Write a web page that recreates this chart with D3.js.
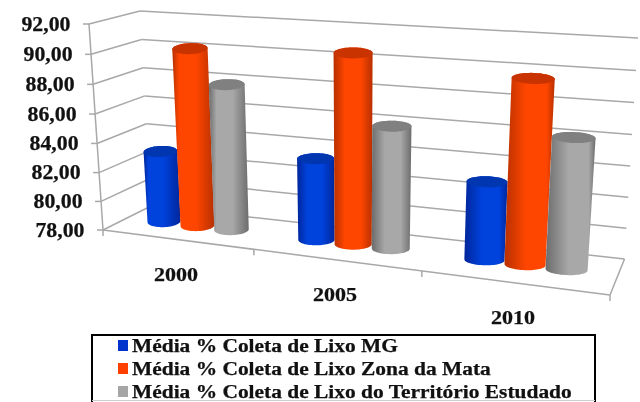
<!DOCTYPE html>
<html><head><meta charset="utf-8">
<script src="https://cdn.jsdelivr.net/npm/d3@7/dist/d3.min.js"></script>
<style>html,body{margin:0;padding:0;background:#fff}svg{display:block;filter:blur(0.4px)}</style>
</head><body><svg id="c" width="640" height="402"></svg>
<script>
const categories = ["2000","2005","2010"];
const seriesNames = ["Média % Coleta de Lixo MG","Média % Coleta de Lixo Zona da Mata","Média % Coleta de Lixo do Território Estudado"];
const mgValues = [82.95, 83.45, 83.0];
const zonaValues = [90.15, 90.5, 89.6];
const territorioValues = [87.9, 86.0, 86.2];
const tickValues = [78,80,82,84,86,88,90,92];
const tickLabels = ["78,00","80,00","82,00","84,00","86,00","88,00","90,00","92,00"];
const seriesColors = [
  {edge:"#00269a",mid:"#0042dc",top:"#0036b0",key:"#0033cc"},
  {edge:"#b83000",mid:"#ff4600",top:"#c93300",key:"#ff4000"},
  {edge:"#6c6c6c",mid:"#a8a8a8",top:"#808080",key:"#a6a6a6"}
];
const seriesValues = [mgValues, zonaValues, territorioValues];

const svg = d3.select("#c");
const defs = svg.append("defs");

const corners = {
  "000":[103,230],"100":[610,295],"010":[151,206],"110":[624.5,259],
  "001":[89,24],"101":[628,50],"011":[140,11],"111":[638,38]
};
const wAt = (u,v,h)=>1.18-0.18*u+0.3*v-0.04*h;
function project(u,v,h){
  let sx=0,sy=0,sw=0;
  for(const a of [0,1])for(const b of [0,1])for(const c of [0,1]){
    const bw=(a?u:1-u)*(b?v:1-v)*(c?h:1-h)*wAt(a,b,c);
    const p=corners[""+a+b+c];
    sx+=p[0]*bw;sy+=p[1]*bw;sw+=bw;
  }
  return [sx/sw,sy/sw];
}
const h = d3.scaleLinear().domain([78,92]).range([0,1]);
const uBand = d3.scaleBand().domain(categories).range([-0.008,1.0]);
const sBand = d3.scaleBand().domain(d3.range(3)).range([0,uBand.bandwidth()]).paddingOuter(0.7).paddingInner(0);
const line = d3.line();
const grid = svg.append("g").attr("fill","none").attr("stroke","#a8a8a8").attr("stroke-width",1.5);
const seg=(a,b)=>grid.append("path").attr("d",line([a,b]));

tickValues.forEach(t=>{
  const y=h(t);
  seg(project(0,0,y),project(0,1,y));
  seg(project(0,1,y),project(1,1,y));
  const f=project(0,0,y);
  seg([f[0]-6,f[1]],f);
});
seg(project(0,0,0),project(0,0,1));
seg(project(0,0,0),project(1,0,0));
seg(project(1,0,0),project(1,1,0));
[0,1/3,2/3,1].forEach(u=>{const p=project(u,0,0);seg(p,[p[0],p[1]+6]);});

const vc=0.47, ry=5.5;
const ring=(uc,r,y)=>{
  const c=project(uc,vc,y), l=project(uc-r,vc,y), q=project(uc+r,vc,y);
  const rx=(q[0]-l[0])/2, tilt=-0.05+0.1*uc;
  return d3.range(0,64).map(i=>{
    const a=i/64*2*Math.PI;
    return [c[0]+rx*Math.cos(a), c[1]+ry*Math.sin(a)+tilt*rx*Math.cos(a)];
  });
};
const bars=svg.append("g");
categories.forEach((cat,ci)=>{
  seriesValues.forEach((vals,si)=>{
    const uc=uBand(cat)+sBand(si)+sBand.bandwidth()/2;
    const r=sBand.bandwidth()/2*1.0;
    const bottom=ring(uc,r,h(78)), top=ring(uc,r,h(vals[ci]));
    const hull=d3.polygonHull(bottom.concat(top));
    const c=seriesColors[si], id="g"+ci+si;
    const peak=0.3+0.4*uc;
    const g=defs.append("linearGradient").attr("id",id);
    g.append("stop").attr("offset",0).attr("stop-color",c.edge);
    g.append("stop").attr("offset",Math.max(0.08,peak-0.2)).attr("stop-color",c.mid);
    g.append("stop").attr("offset",Math.min(0.92,peak+0.2)).attr("stop-color",c.mid);
    g.append("stop").attr("offset",1).attr("stop-color",c.edge);
    bars.append("path").attr("d",line(hull)+"Z").attr("fill",`url(#${id})`);
    bars.append("path").attr("d",line(top)+"Z").attr("fill",c.top);
  });
});

const font="'Liberation Serif','Times New Roman',serif";
function stretch(sel,k){
  sel.each(function(){
    const n=this.getComputedTextLength();
    d3.select(this).attr("textLength",n*k).attr("lengthAdjust","spacingAndGlyphs");
  });
}
const style=(sel,size)=>sel.attr("font-family",font).attr("font-weight","bold").attr("font-size",size)
  .attr("fill","#111").attr("stroke","#111").attr("stroke-width",0.25);

const yl=svg.append("g").selectAll("text").data(tickValues).join("text")
  .attr("x",t=>project(0,0,h(t))[0]-18.5)
  .attr("y",t=>project(0,0,h(t))[1]+6.5)
  .attr("text-anchor","end").text((t,i)=>tickLabels[i]);
style(yl,20); stretch(yl,1.09);

const xl=svg.append("g").selectAll("text").data(categories).join("text")
  .attr("x",(d,i)=>[176,335,513][i]).attr("y",(d,i)=>[280.5,300.5,324][i])
  .attr("text-anchor","middle").text(d=>d);
style(xl,18.5); stretch(xl,1.19);

const lg=svg.append("g");
lg.append("path").attr("d","M92,402V335H595V402").attr("fill","none").attr("stroke","#000").attr("stroke-width",2);
lg.append("path").attr("d","M92,400.5H595").attr("fill","none").attr("stroke","#ccc").attr("stroke-width",1);
const rowY=d3.scalePoint().domain(d3.range(3)).range([352,398]);
seriesNames.forEach((n,i)=>{
  lg.append("rect").attr("x",118).attr("y",rowY(i)-12).attr("width",10).attr("height",11).attr("fill",seriesColors[i].key);
  const t=lg.append("text").attr("x",132).attr("y",rowY(i)).text(n);
  style(t,18); stretch(t,1.19);
});
</script></body></html>
